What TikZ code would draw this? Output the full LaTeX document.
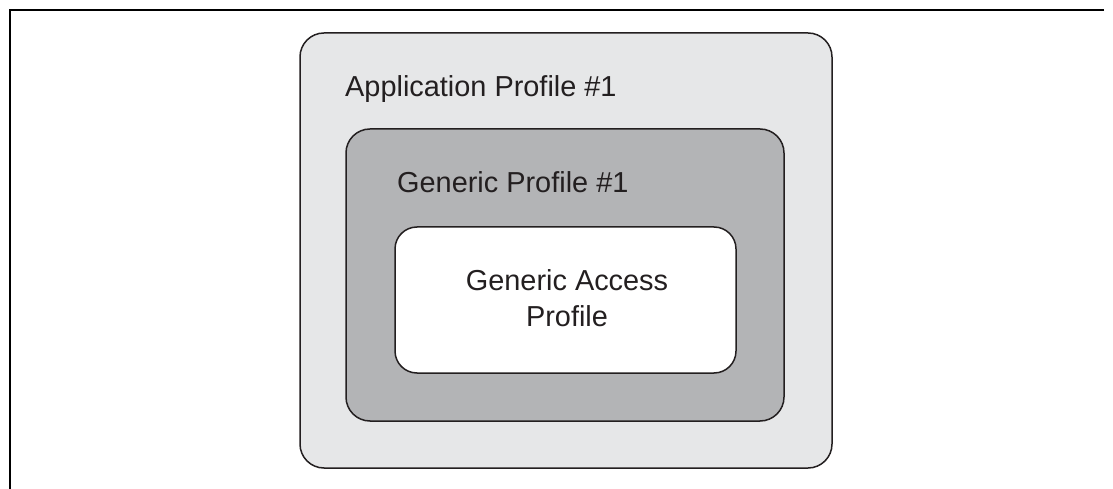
\documentclass[tikz,border=0pt]{standalone}
\usepackage{fontspec}
\setmainfont{Liberation Sans}
\usepackage{tikz}
\usetikzlibrary{positioning}
\definecolor{inkgray}{HTML}{231F20}
\definecolor{appgray}{HTML}{E6E7E8}
\definecolor{gengray}{HTML}{B3B4B6}

\begin{document}
\begin{tikzpicture}[x=1bp, y=-1bp,
                    profilebox/.style={draw=inkgray, line width=1.5bp, rounded corners=24bp, inner sep=0pt},
                    profiletext/.style={text=inkgray, inner sep=0pt, font=\fontsize{29}{36}\selectfont}]
                    \useasboundingbox (0, 0) rectangle (1113, 489);
                    \draw[color=black!100, line width=2.3bp] (1104, 10) -- (10, 10) -- (10, 489);

                    \node[profilebox, fill=appgray, minimum width=532bp, minimum height=435bp] (appbox) at (566, 250.5) {};
                    \node[profiletext, anchor=base west] (applabel) at (345, 97) {Application Profile \#1};

                    \node[profilebox, fill=gengray, minimum width=438bp, minimum height=292bp] (genbox) at (565, 275) {};
                    \node[profiletext, anchor=base west] (genlabel) at (397, 193) {Generic Profile \#1};

                    \node[profilebox, fill=white, rounded corners=22bp, minimum width=341bp, minimum height=146bp] (gapbox) at (565.5, 300) {};
                    \node[profiletext, align=center] (gaplabel) at (567, 298) {Generic Access\\Profile};
                \end{tikzpicture}
\end{document}
